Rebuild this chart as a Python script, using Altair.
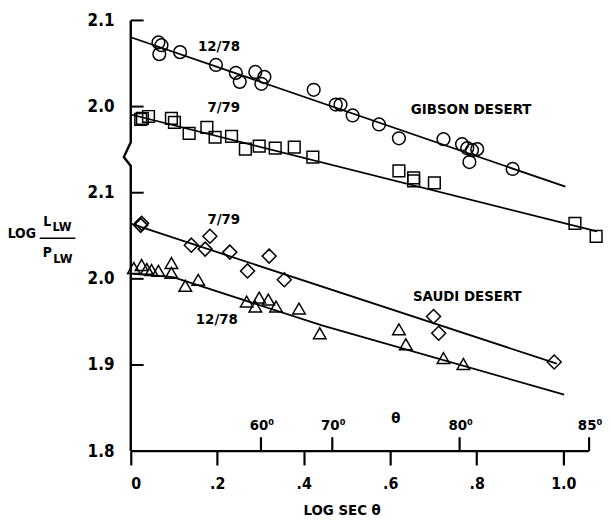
import altair as alt
import pandas as pd

# ---------------- data ----------------
# Gibson Desert, 12/78 (circles) -- true LOG(L/P) values
gib_1278_x = [0.064, 0.071, 0.066, 0.114, 0.197, 0.243, 0.252, 0.288, 0.309, 0.302,
              0.423, 0.474, 0.485, 0.513, 0.574, 0.620, 0.723, 0.766, 0.778, 0.789,
              0.801, 0.783, 0.883]
gib_1278_y = [2.0745, 2.0713, 2.0609, 2.0632, 2.0483, 2.0391, 2.0287, 2.0402, 2.0345, 2.0264,
              2.0195, 2.0023, 2.0023, 1.9897, 1.9793, 1.9632, 1.9621, 1.9563, 1.9517, 1.9494,
              1.9506, 1.9356, 1.9276]
# Gibson Desert, 7/79 (squares)
gib_779_x = [0.023, 0.027, 0.041, 0.094, 0.101, 0.135, 0.176, 0.195, 0.233, 0.265,
             0.297, 0.334, 0.378, 0.421, 0.620, 0.654, 0.654, 0.702, 1.027, 1.076]
gib_779_y = [1.9851, 1.9862, 1.9885, 1.9862, 1.9816, 1.9690, 1.9759, 1.9644, 1.9655, 1.9506,
             1.9540, 1.9517, 1.9529, 1.9414, 1.9253, 1.9172, 1.9138, 1.9115, 1.8644, 1.8494]
# Saudi Desert, 7/79 (diamonds)
sau_779_x = [0.023, 0.025, 0.140, 0.172, 0.183, 0.229, 0.270, 0.320, 0.355, 0.700, 0.712, 0.979]
sau_779_y = [2.0621, 2.0644, 2.0391, 2.0345, 2.0494, 2.0310, 2.0092, 2.0264, 1.9989, 1.9563,
             1.9368, 1.9034]
# Saudi Desert, 12/78 (triangles)
sau_1278_x = [0.007, 0.025, 0.037, 0.048, 0.064, 0.094, 0.094, 0.126, 0.156, 0.268,
              0.288, 0.297, 0.318, 0.336, 0.389, 0.437, 0.620, 0.636, 0.723, 0.769]
sau_1278_y = [2.0126, 2.0161, 2.0115, 2.0103, 2.0092, 2.0184, 2.0069, 1.9920, 1.9989, 1.9736,
              1.9678, 1.9782, 1.9759, 1.9678, 1.9655, 1.9368, 1.9414, 1.9241, 1.9080, 1.9011]

# fitted lines
gib_1278_fit_x = [0.0, 1.005]
gib_1278_fit_y = [2.0805, 1.907]
gib_779_fit_x = [0.0, 1.078]
gib_779_fit_y = [1.9908, 1.855]
sau_779_fit_x = [0.0, 0.985]
sau_779_fit_y = [2.064, 1.9015]
sau_1278_fit_x = [0.0, 0.098, 0.442, 1.002]
sau_1278_fit_y = [2.006, 2.002, 1.946, 1.8655]

# the upper (Gibson) panel is drawn shifted up by this amount (broken axis)
GIB_SHIFT = 0.2

# axis ticks / labels
x_ticks = [0.0, 0.2, 0.4, 0.6, 0.8, 1.0]
y_ticks = [1.8, 1.9, 2.0, 2.1, 2.2, 2.3]   # 2.2 / 2.3 are labelled 2.0 / 2.1 (upper panel)
theta_deg = [60, 70, 80, 85]
theta_lab = ["60\u2070", "70\u2070", "80\u2070", "85\u2070"]

# broken y-axis line (zig-zag)
yaxis_x = [0.0, 0.0, -0.016, 0.0, 0.0]
yaxis_y = [2.3, 2.1586, 2.1414, 2.131, 1.8]

# annotations (display coordinates)
ann_text = ["12/78", "7/79", "GIBSON DESERT", "7/79", "SAUDI DESERT", "12/78", "\u03b8"]
ann_x = [0.204, 0.215, 0.787, 0.215, 0.778, 0.199, 0.613]
ann_y = [2.270, 2.199, 2.1966, 2.069, 1.980, 1.953, 1.838]

FONT = "'Liberation Sans Narrow', 'DejaVu Sans Condensed', 'Arial Narrow', sans-serif"
W, H = 474, 435
XS = alt.Scale(domain=[0, 1.085], nice=False, zero=False)
YS = alt.Scale(domain=[1.8, 2.3], nice=False, zero=False)

XAXIS = alt.Axis(values=x_ticks, domain=False, grid=False, ticks=True, tickSize=14,
                 tickWidth=2.2, tickColor="black", labelFont=FONT, labelFontSize=16,
                 labelFontWeight="bold", labelColor="black", labelPadding=11,
                 labelExpr="datum.value == 0 ? '0' : (datum.value >= 1 ? '1.0' : slice(format(datum.value, '.1f'), 1))",
                 title="LOG SEC \u03b8", titleFont=FONT, titleFontSize=15, titleFontWeight="bold",
                 titleColor="black", titleX=213, titleY=64, titleAlign="center",
                 titleBaseline="alphabetic")
YAXIS = alt.Axis(values=y_ticks, domain=False, grid=False, ticks=False, labelFont=FONT,
                 labelFontSize=17, labelFontWeight="bold", labelColor="black", labelPadding=17,
                 labelExpr="datum.value > 2.15 ? format(datum.value - 0.2, '.1f') : format(datum.value, '.1f')",
                 title=None)


def X(f="x"):
    return alt.X(f"{f}:Q", scale=XS, axis=XAXIS)


def Y(f="y"):
    return alt.Y(f"{f}:Q", scale=YS, axis=YAXIS)


# ---- x-axis line from 0 to 85 deg ----
xline = alt.Chart(pd.DataFrame({"deg": [0, 85]})).transform_calculate(
    x="log(1/cos(datum.deg*PI/180))/LN10", y="1.8"
).mark_line(color="black", strokeWidth=2.2).encode(x=X(), y=Y())

yline = alt.Chart(pd.DataFrame({"x": yaxis_x, "y": yaxis_y, "i": range(len(yaxis_x))})).mark_line(
    color="black", strokeWidth=2.4
).encode(x=X(), y=Y(), order="i:Q")

yticks = alt.Chart(pd.DataFrame({"y": y_ticks[1:]})).mark_rule(color="black", strokeWidth=2).encode(
    x=alt.value(0), x2=alt.value(13), y=Y()
)

th = alt.Chart(pd.DataFrame({"deg": theta_deg, "lab": theta_lab})).transform_calculate(
    x="log(1/cos(datum.deg*PI/180))/LN10"
)
theta_ticks = th.mark_rule(color="black", strokeWidth=2.2).encode(
    x=X(), y=alt.value(H), y2=alt.value(H - 14)
)
theta_text = th.mark_text(font=FONT, fontSize=15, fontWeight="bold", color="black",
                          baseline="middle", dx=1).encode(
    x=X(), y=alt.value(H - 26), text="lab:N"
)


def fit(xs, ys, shift=0.0):
    return alt.Chart(pd.DataFrame({"x": xs, "y0": ys, "i": range(len(xs))})).transform_calculate(
        y=f"datum.y0 + {shift}"
    ).mark_line(color="black", strokeWidth=1.8).encode(x=X(), y=Y(), order="i:Q")


def pts(xs, ys, shape, size, shift=0.0):
    return alt.Chart(pd.DataFrame({"x": xs, "y0": ys})).transform_calculate(
        y=f"datum.y0 + {shift}"
    ).mark_point(shape=shape, size=size, filled=False, color="black", strokeWidth=1.5,
                 opacity=1).encode(x=X(), y=Y())


ann = alt.Chart(pd.DataFrame({"x": ann_x, "y": ann_y, "t": ann_text})).mark_text(
    font=FONT, fontSize=15, fontWeight="bold", color="black", baseline="middle", align="center"
).encode(x=X(), y=Y(), text="t:N")

# y-axis title: LOG L_LW / P_LW
ytitle_main = alt.Chart(pd.DataFrame({"x": [-0.252, -0.193, -0.193], "y": [2.0517, 2.0655, 2.0299],
                                      "t": ["LOG", "L", "P"]})).mark_text(
    font=FONT, fontSize=14, fontWeight="bold", color="black", baseline="middle", align="center"
).encode(x=X(), y=Y(), text="t:N")
ytitle_sub = alt.Chart(pd.DataFrame({"x": [-0.159, -0.157], "y": [2.0598, 2.0235],
                                     "t": ["LW", "LW"]})).mark_text(
    font=FONT, fontSize=13, fontWeight="bold", color="black", baseline="middle", align="center"
).encode(x=X(), y=Y(), text="t:N")
ytitle_bar = alt.Chart(pd.DataFrame({"x": [-0.2105], "x2": [-0.128], "y": [2.0471]})).mark_rule(
    color="black", strokeWidth=1.5
).encode(x=X(), x2="x2:Q", y=Y())

chart = alt.layer(
    xline, yline, yticks, theta_ticks, theta_text,
    fit(gib_1278_fit_x, gib_1278_fit_y, GIB_SHIFT),
    fit(gib_779_fit_x, gib_779_fit_y, GIB_SHIFT),
    fit(sau_779_fit_x, sau_779_fit_y),
    fit(sau_1278_fit_x, sau_1278_fit_y),
    pts(gib_1278_x, gib_1278_y, "circle", 165, GIB_SHIFT),
    pts(gib_779_x, gib_779_y, "square", 140, GIB_SHIFT),
    pts(sau_779_x, sau_779_y, "diamond", 200),
    pts(sau_1278_x, sau_1278_y, "triangle-up", 160),
    ann, ytitle_main, ytitle_sub, ytitle_bar,
).properties(
    width=W, height=H, autosize="none",
    padding={"left": 124, "top": 10, "right": 3, "bottom": 65},
    background="white",
).configure_view(stroke=None)

chart.save("out.html", embed_options={"renderer": "svg", "actions": False})
